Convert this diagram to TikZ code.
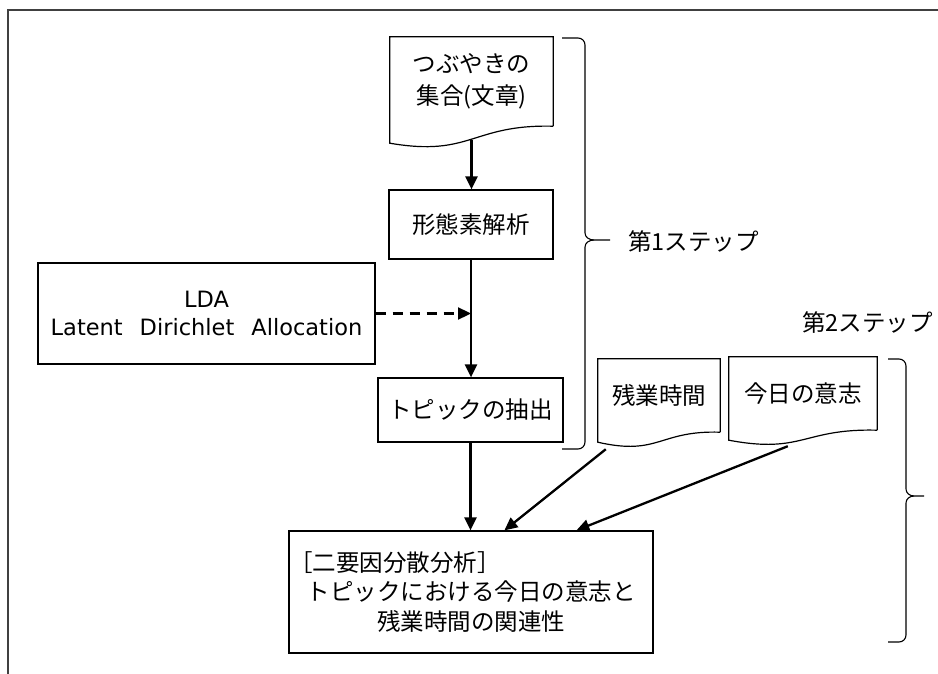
\documentclass[tikz,border=0pt]{standalone}
\usepackage{fontspec}
\setmainfont{Noto Sans CJK JP}
\newfontfamily\ldafont{DejaVu Sans}
\usetikzlibrary{arrows.meta,calc}
\begin{document}
\begin{tikzpicture}[x=1pt,y=-1pt,
  boxline/.style={draw=black, line width=1.2pt},
  procbox/.style={boxline, rectangle, inner sep=0pt, font=\fontsize{23.5}{30}\selectfont, align=center},
  doctext/.style={rectangle, inner sep=0pt, font=\fontsize{23.5}{32}\selectfont, align=center},
  arr/.style={line width=2.3pt, -{Triangle[length=13pt,width=12pt]}},
  dasharr/.style={arr, dash pattern=on 10pt off 7pt},
  braceline/.style={line width=1.1pt},
  steplabel/.style={inner sep=0pt, anchor=west, font=\fontsize{23.5}{28}\selectfont},
  framel/.style={draw=black!75, line width=2pt}]
\useasboundingbox (0,0) rectangle (938,674);

% frame
\draw[framel] (8,674) -- (8,10) -- (938,10);

% nodes
\node[doctext, minimum width=163, minimum height=89] (tw) at (471.5,81.5) {つぶやきの\\集合(文章)};
\node[procbox, minimum width=164, minimum height=69] (morph) at (471,224.5) {形態素解析};
\node[procbox, minimum width=337, minimum height=101, font=\ldafont\fontsize{22.5}{28}\selectfont] (lda) at (206.5,313.5) {LDA\\Latent\hspace{17pt}Dirichlet\hspace{17pt}Allocation};
\node[procbox, minimum width=185, minimum height=64] (topic) at (470.5,410) {トピックの抽出};
\node[doctext, minimum width=122, minimum height=73] (zan) at (659,395.5) {残業時間};
\node[doctext, minimum width=148, minimum height=73] (kyo) at (803,393.5) {今日の意志};
\node[procbox, minimum width=364, minimum height=122, text width=346pt, inner sep=9pt, font=\fontsize{23.5}{29.5}\selectfont] (ana) at (471,592) {\makebox[346pt][l]{\hspace{-9pt}［二要因分散分析］}\\トピックにおける今日の意志と\\残業時間の関連性};

% document outlines (wavy bottom)
\draw[boxline] (tw.south east) -- (tw.north east) -- (tw.north west) -- ($(tw.south west)+(0,17)$)
  .. controls ($(tw.south)+(0,31)$) and ($(tw.south)+(0,-2)$) .. (tw.south east);
\draw[boxline] (zan.south east) -- (zan.north east) -- (zan.north west) -- ($(zan.south west)+(0,10)$)
  .. controls ($(zan.south)+(0,24)$) and ($(zan.south)+(0,-2)$) .. (zan.south east);
\draw[boxline] (kyo.south east) -- (kyo.north east) -- (kyo.north west) -- ($(kyo.south west)+(0,10)$)
  .. controls ($(kyo.south)+(0,24)$) and ($(kyo.south)+(0,-2)$) .. (kyo.south east);

% connector end points
\coordinate (twb) at ($(tw.south)+(0,14)$);
\coordinate (join) at (morph.south |- lda.east);
\coordinate (zanb) at ($(zan.south west)+(8,17)$);
\coordinate (kyob) at ($(kyo.south west)+(59,16)$);
\coordinate (anain1) at ($(ana.north west)+(216,0)$);
\coordinate (anain2) at ($(ana.north west)+(288,0)$);

% connectors
\draw[arr] (twb) -- (twb |- morph.north);
\draw[arr] (morph.south) -- (morph.south |- topic.north);
\draw[dasharr] (lda.east) -- (join);
\draw[arr] (topic.south) -- (topic.south |- ana.north);
\draw[arr] (zanb) -- (anain1);
\draw[arr] (kyob) -- (anain2);

% braces
\draw[braceline] (562,38) -- (578,38) to[out=0,in=90] (585,45) -- (585,233) to[out=-90,in=180] (594,240) -- (610,240);
\draw[braceline] (594,240) to[out=180,in=90] (585,247) -- (585,442) to[out=-90,in=0] (578,449) -- (562,449);
\draw[braceline] (888,359) -- (899,359) to[out=0,in=90] (906,366) -- (906,489) to[out=-90,in=180] (914,496) -- (924,496);
\draw[braceline] (914,496) to[out=180,in=90] (906,503) -- (906,635) to[out=-90,in=0] (899,642) -- (888,642);

\node[steplabel] (step1) at (628,242) {第1ステップ};
\node[steplabel] (step2) at (802,323) {第2ステップ};
\end{tikzpicture}
\end{document}
